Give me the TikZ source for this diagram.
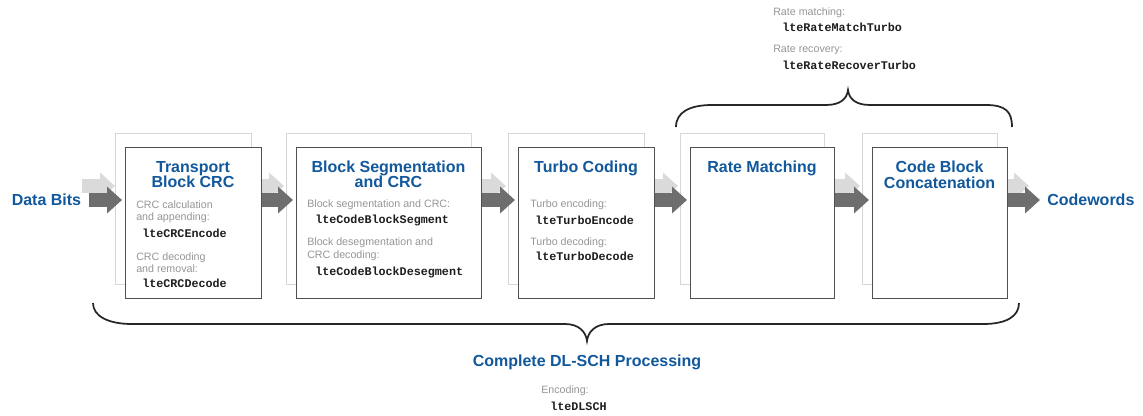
\documentclass[tikz,border=0pt]{standalone}
\usepackage{fontspec}
\setmainfont{Liberation Sans}
\newfontfamily\lmono{Liberation Mono}
\usetikzlibrary{arrows.meta}
\definecolor{titleblue}{RGB}{18,88,156}
\definecolor{graytext}{RGB}{150,150,150}
\definecolor{monotext}{RGB}{30,30,30}
\definecolor{arrowdark}{RGB}{110,110,110}
\definecolor{arrowlight}{RGB}{218,218,218}
\definecolor{frontline}{RGB}{80,80,80}
\definecolor{backline}{RGB}{215,215,215}
\tikzset{
  frontbox/.style={draw=frontline, fill=white, line width=0.9pt, minimum height=113.25pt, anchor=north west, inner sep=0pt},
  backbox/.style={draw=backline, fill=white, line width=1pt, minimum height=113.25pt, anchor=north west, inner sep=0pt},
  darkarrow/.style={draw=arrowdark, line width=10.5pt, -{Triangle[length=11.25pt,width=19.5pt]}},
  lightarrow/.style={draw=arrowlight, line width=10.5pt, -{Triangle[length=11.25pt,width=19.5pt]}},
  ttl/.style={font=\fontsize{12}{12}\selectfont\bfseries, text=titleblue, inner sep=0pt, anchor=base},
  gry/.style={font=\fontsize{8}{8}\selectfont, text=graytext, inner sep=0pt, anchor=base west},
  mno/.style={font=\lmono\bfseries\fontsize{8.8}{8.8}\selectfont, text=monotext, inner sep=0pt, anchor=base west},
  lbl/.style={font=\fontsize{12}{12}\selectfont\bfseries, text=titleblue, inner sep=0pt},
  bracestyle/.style={draw=black!85, line width=1.3pt}
}
\begin{document}
\begin{tikzpicture}[x=0.75pt,y=-0.75pt]
\useasboundingbox (0,0) rectangle (1143,415);
\fill[white] (0,0) rectangle (1143,415);
\coordinate (yd) at (0,200);
\coordinate (yl) at (0,186);
% back boxes
\node[backbox, minimum width=102pt] (k1) at (115,133) {};
\node[backbox, minimum width=138.75pt] (k2) at (286,133) {};
\node[backbox, minimum width=102pt] (k3) at (508,133) {};
\node[backbox, minimum width=108pt] (k4) at (680,133) {};
\node[backbox, minimum width=101.25pt] (k5) at (862,133) {};
% end labels
\node[lbl, anchor=west] (db) at (11.5,200) {Data Bits};
\node[lbl, anchor=west] (cw) at (1047,200) {Codewords};
% light arrows
\draw[lightarrow, shorten <=0.75pt] (db.east |- yl) -- (k1.west |- yl);
\draw[lightarrow, shorten >=1.5pt] (k1.east |- yl) -- (k2.west |- yl);
\draw[lightarrow, shorten >=1.5pt] (k2.east |- yl) -- (k3.west |- yl);
\draw[lightarrow, shorten >=1.5pt] (k3.east |- yl) -- (k4.west |- yl);
\draw[lightarrow, shorten >=1.5pt] (k4.east |- yl) -- (k5.west |- yl);
\draw[lightarrow, shorten >=13.5pt] (k5.east |- yl) -- (cw.west |- yl);
% front boxes
\node[frontbox, minimum width=102pt] (b1) at (125,147) {};
\node[frontbox, minimum width=138.75pt] (b2) at (296,147) {};
\node[frontbox, minimum width=102pt] (b3) at (518,147) {};
\node[frontbox, minimum width=108pt] (b4) at (690,147) {};
\node[frontbox, minimum width=101.25pt] (b5) at (872,147) {};
% dark arrows
\draw[darkarrow, shorten <=6pt, shorten >=2.25pt] (db.east) -- (b1.west |- yd);
\draw[darkarrow, shorten >=2.25pt] (b1.east |- yd) -- (b2.west |- yd);
\draw[darkarrow, shorten >=2.25pt] (b2.east |- yd) -- (b3.west |- yd);
\draw[darkarrow, shorten >=2.25pt] (b3.east |- yd) -- (b4.west |- yd);
\draw[darkarrow, shorten >=2.25pt] (b4.east |- yd) -- (b5.west |- yd);
\draw[darkarrow, shorten >=5.25pt] (b5.east |- yd) -- (cw.west);
% titles
\node[ttl] (t1a) at (193,172) {Transport};
\node[ttl] (t1b) at (193,187.5) {Block CRC};
\node[ttl] (t2a) at (388.5,172) {Block Segmentation};
\node[ttl] (t2b) at (388.5,187.5) {and CRC};
\node[ttl] (t3a) at (586,172.5) {Turbo Coding};
\node[ttl] (t4a) at (762,172) {Rate Matching};
\node[ttl] (t5a) at (939.5,172) {Code Block};
\node[ttl] (t5b) at (939.5,188) {Concatenation};
% box 1 text
\node[gry] (g11) at (136,208.5) {CRC calculation};
\node[gry] (g12) at (136,220.5) {and appending:};
\node[mno] (m11) at (142,237.5) {lteCRCEncode};
\node[gry] (g13) at (136,260.5) {CRC decoding};
\node[gry] (g14) at (136,272.5) {and removal:};
\node[mno] (m12) at (142,287.5) {lteCRCDecode};
% box 2 text
\node[gry] (g21) at (307,207.5) {Block segmentation and CRC:};
\node[mno] (m21) at (315,223.5) {lteCodeBlockSegment};
\node[gry] (g22) at (307,245.5) {Block desegmentation and};
\node[gry] (g23) at (307,258.5) {CRC decoding:};
\node[mno] (m22) at (315,275.5) {lteCodeBlockDesegment};
% box 3 text
\node[gry] (g31) at (530,207.5) {Turbo encoding:};
\node[mno] (m31) at (535,224.5) {lteTurboEncode};
\node[gry] (g32) at (530,245.5) {Turbo decoding:};
\node[mno] (m32) at (535,260.5) {lteTurboDecode};
% top text
\node[gry] (gt1) at (773,15.5) {Rate matching:};
\node[mno] (mt1) at (782,31.5) {lteRateMatchTurbo};
\node[gry] (gt2) at (773,52.5) {Rate recovery:};
\node[mno] (mt2) at (782,69.5) {lteRateRecoverTurbo};
% bottom text
\node[lbl, anchor=base] (cp) at (587,366.5) {Complete DL-SCH Processing};
\node[gry] (gb1) at (541,393.5) {Encoding:};
\node[mno] (mb1) at (550,410.5) {lteDLSCH};
% top brace
\draw[bracestyle] (676,127) .. controls (676,112) and (690,105) .. (712,105)
  -- (826,105) .. controls (840,105) and (847,99) .. (848,90)
  .. controls (849,99) and (856,105) .. (870,105)
  -- (986,105) .. controls (1006,105) and (1012,112) .. (1012,127);
% bottom brace
\draw[bracestyle] (93,303) .. controls (93,316) and (108,324) .. (132,324)
  -- (565,324) .. controls (579,324) and (586,332) .. (587,341)
  .. controls (588,332) and (595,324) .. (609,324)
  -- (983,324) .. controls (1007,324) and (1019,316) .. (1019,303);
\end{tikzpicture}
\end{document}
